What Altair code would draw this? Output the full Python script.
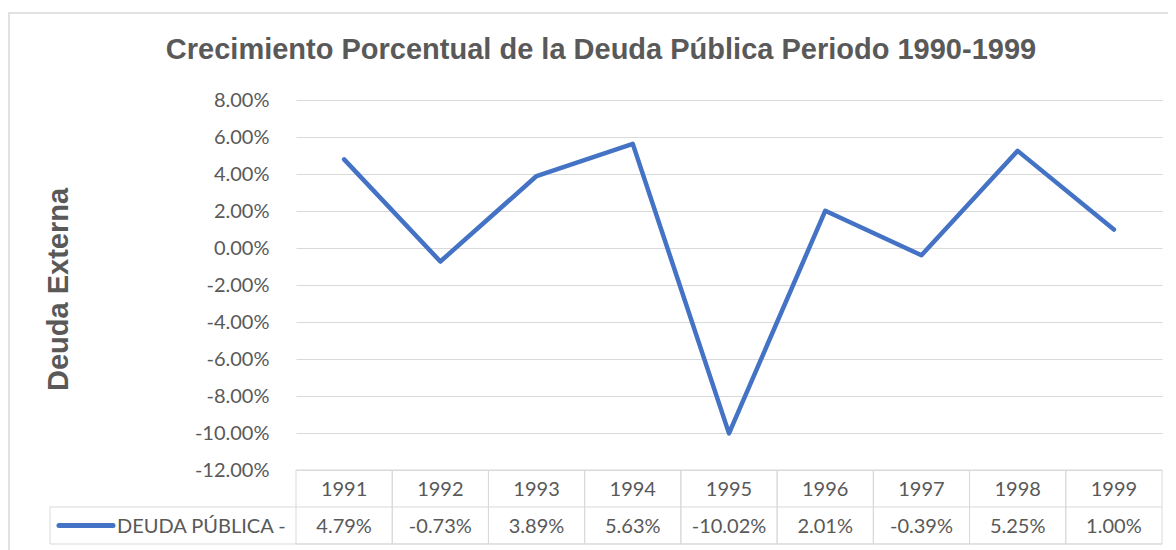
import altair as alt
import pandas as pd

years = ["1991", "1992", "1993", "1994", "1995", "1996", "1997", "1998", "1999"]
values = [4.79, -0.73, 3.89, 5.63, -10.02, 2.01, -0.39, 5.25, 1.00]
y_ticks = [0.08, 0.06, 0.04, 0.02, 0.0, -0.02, -0.04, -0.06, -0.08, -0.10, -0.12]
series_name = "DEUDA PÚBLICA -"
title_text = "Crecimiento Porcentual de la Deuda Pública Periodo 1990-1999"
y_title = "Deuda Externa"

df = pd.DataFrame({
    "year": years,
    "value": [v / 100 for v in values],
    "label": [f"{v:.2f}%" for v in values],
})
one = pd.DataFrame({"title": [title_text], "series": [series_name]})

W, H = 866, 370
ROW = 37
BLUE = "#4472C4"
GRID = "#d9d9d9"
TXT = "#595959"
LEG_X = -246

xs = alt.Scale(type="band", domain=years, paddingInner=0, paddingOuter=0)
ys = alt.Scale(domain=[-0.12, 0.08], nice=False, zero=False)

def X():
    return alt.X("year:O", scale=xs, axis=None)

base = alt.Chart(df)
single = alt.Chart(one)

line = base.mark_line(color=BLUE, strokeWidth=4.5, strokeCap="round", strokeJoin="round").encode(
    x=X(),
    y=alt.Y(
        "value:Q",
        scale=ys,
        axis=alt.Axis(
            values=y_ticks, format=".2%", grid=True, gridColor=GRID, gridWidth=1,
            labelExpr="replace(datum.label, '\u2212', '-')",
            domain=False, ticks=False, labelFont="Lato", labelFontSize=20,
            labelColor=TXT, labelPadding=27, title=y_title,
            titleFont="Liberation Sans", titleFontSize=29, titleFontWeight="bold",
            titleColor=TXT, titleAngle=270, titleX=-238, titleY=189,
            titleAlign="center", titleBaseline="middle",
        ),
    ),
)

border = single.mark_rect(fill="white", fillOpacity=0, stroke=GRID, strokeWidth=1.5).encode(
    x=alt.value(-287), x2=alt.value(900), y=alt.value(-87), y2=alt.value(600)
)

title = single.mark_text(
    font="Liberation Sans", fontSize=29, fontWeight="bold", color=TXT,
    align="center", baseline="middle",
).encode(x=alt.value(W / 2 - 128), y=alt.value(-50), text="title:N")

cells = base.mark_rect(fill="white", fillOpacity=0, stroke=GRID, strokeWidth=1).encode(
    x=X(), y=alt.value(H), y2=alt.value(H + 2 * ROW)
)
hmid = single.mark_rule(color=GRID, strokeWidth=1).encode(
    x=alt.value(LEG_X), x2=alt.value(W), y=alt.value(H + ROW)
)
hbot = single.mark_rule(color=GRID, strokeWidth=1).encode(
    x=alt.value(LEG_X), x2=alt.value(W), y=alt.value(H + 2 * ROW)
)
vleft = single.mark_rule(color=GRID, strokeWidth=1).encode(
    x=alt.value(LEG_X), y=alt.value(H + ROW), y2=alt.value(H + 2 * ROW)
)

year_txt = base.mark_text(font="Lato", fontSize=20, color=TXT, baseline="middle").encode(
    x=X(), y=alt.value(H + ROW / 2 + 1), text="year:N"
)
val_txt = base.mark_text(font="Lato", fontSize=20, color=TXT, baseline="middle").encode(
    x=X(), y=alt.value(H + ROW * 1.5 + 1), text="label:N"
)

leg_line = single.mark_rule(color=BLUE, strokeWidth=5, strokeCap="round").encode(
    x=alt.value(LEG_X + 9), x2=alt.value(LEG_X + 63), y=alt.value(H + ROW * 1.5)
)
leg_txt = single.mark_text(font="Lato", fontSize=20, color=TXT, align="left", baseline="middle").encode(
    x=alt.value(LEG_X + 67), y=alt.value(H + ROW * 1.5 + 1), text="series:N"
)

chart = alt.layer(
    border, title, cells, hmid, hbot, vleft, year_txt, val_txt, leg_line, leg_txt, line
).properties(
    width=W, height=H,
    autosize=alt.AutoSizeParams(type="none"),
    padding={"left": 288, "top": 92, "right": 6, "bottom": 80},
    background="white",
).configure_view(stroke=None)

chart.save("out.html", embed_options={"renderer": "svg", "actions": False})
